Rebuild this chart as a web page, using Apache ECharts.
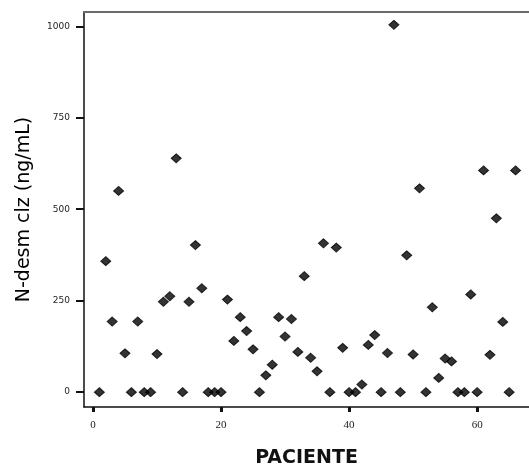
<!DOCTYPE html>
<html>
<head>
<meta charset="utf-8">
<script src="https://cdn.jsdelivr.net/npm/echarts@6/dist/echarts.min.js"></script>
<style>
  html, body { margin: 0; padding: 0; background: #fff; }
  #chart { width: 529px; height: 473px; }
</style>
</head>
<body>
<div id="chart"></div>
<script>
// patient number on x, N-desmetilclozapina (ng/mL) on y
var pacientes = [1, 2, 3, 4, 5, 6, 7, 8, 9, 10, 11, 12, 13, 14, 15, 16, 17, 18, 19, 20,
  21, 22, 23, 24, 25, 26, 27, 28, 29, 30, 31, 32, 33, 34, 35, 36, 37, 38, 39, 40,
  41, 42, 43, 44, 45, 46, 47, 48, 49, 50, 51, 52, 53, 54, 55, 56, 57, 58, 59, 60,
  61, 62, 63, 64, 65, 66]
var ndesmclz = [0, 358, 193, 550, 106, 0, 193, 0, 0, 104, 247, 262, 639, 0, 247, 402, 284, 0, 0, 0,
  253, 140, 205, 167, 117, 0, 46, 75, 205, 152, 200, 110, 317, 94, 57, 407, 0, 395, 121, 0,
  0, 21, 129, 156, 0, 107, 1004, 0, 374, 103, 557, 0, 232, 39, 92, 84, 0, 0, 267, 0,
  606, 102, 475, 192, 0, 606]
var xTicks = [0, 20, 40, 60]
var yTicks = [0, 250, 500, 750, 1000]

var points = pacientes.map(function (p, i) {
  return [p, ndesmclz[i]]
})

var xMin = -1.4
var xMax = 68.1

var chart = echarts.init(document.getElementById('chart'))
chart.setOption({
  animation: false,
  grid: {
    left: 84,
    right: 0,
    top: 12,
    bottom: 62
  },
  xAxis: [
    {
      type: 'value',
      min: xMin,
      max: xMax,
      interval: 20,
      name: 'PACIENTE',
      nameLocation: 'middle',
      nameGap: 42,
      nameTextStyle: {
        fontFamily: 'DejaVu Sans',
        fontSize: 19,
        fontWeight: 'bold',
        color: '#111'
      },
      splitLine: { show: false },
      axisLine: { show: true, onZero: false, lineStyle: { color: '#111', width: 1.5 } },
      axisTick: {
        show: true,
        inside: false,
        length: 5,
        customValues: xTicks,
        lineStyle: { color: '#111', width: 3 }
      },
      axisLabel: {
        customValues: xTicks,
        margin: 13,
        fontFamily: 'Liberation Serif',
        fontSize: 11,
        color: '#222'
      }
    },
    {
      // top frame line only
      type: 'value',
      position: 'top',
      min: xMin,
      max: xMax,
      splitLine: { show: false },
      axisLine: { show: true, onZero: false, lineStyle: { color: '#6a6a6a', width: 2 } },
      axisTick: { show: false },
      axisLabel: { show: false }
    }
  ],
  yAxis: {
    type: 'value',
    min: -40.6,
    max: 1039,
    name: 'N-desm clz (ng/mL)',
    nameLocation: 'middle',
    nameGap: 50,
    nameTextStyle: {
      fontFamily: 'DejaVu Sans',
      fontSize: 19,
      fontWeight: 500,
      color: '#000'
    },
    splitLine: { show: false },
    axisLine: { show: true, onZero: false, lineStyle: { color: '#111', width: 1.5 } },
    axisTick: {
      show: true,
      inside: false,
      length: 8,
      customValues: yTicks,
      lineStyle: { color: '#111', width: 2 }
    },
    axisLabel: {
      customValues: yTicks,
      formatter: function (v) { return String(v) },
      margin: 14,
      fontFamily: 'DejaVu Sans',
      fontSize: 9,
      color: '#222'
    }
  },
  series: [
    {
      type: 'scatter',
      symbol: 'diamond',
      symbolSize: [10, 9],
      itemStyle: { color: '#000', borderColor: '#000', borderWidth: 1 },
      data: points
    }
  ]
})
</script>
</body>
</html>
